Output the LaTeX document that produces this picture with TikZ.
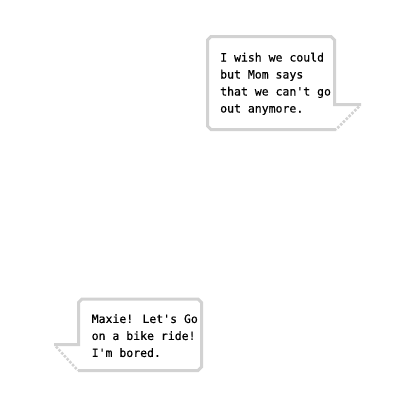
\documentclass[tikz,border=0pt]{standalone}
\usepackage{fontspec}
\newfontfamily\pixfont[FakeBold=0.5]{DejaVu Sans Mono}
\usepackage{tikz}

\definecolor{rim}{HTML}{D2D2D2}
\definecolor{ink}{HTML}{000000}

\begin{document}
\begin{tikzpicture}[x=1pt, y=-1pt,
    bubble/.style={draw=rim, line width=3pt, line join=miter},
    tailstep/.style={draw=rim, line width=2.5pt, dash pattern=on 2.5pt off 1.5pt},
    talk/.style={inner sep=0pt, align=left, text=ink, anchor=north west,
      font=\pixfont\fontsize{11.5}{17}\selectfont}]
\useasboundingbox (0,0) rectangle (400,400);
% upper bubble, tail to the right
    \coordinate (Ta) at (361,104.5);
    \coordinate (Tb) at (336,129.5);
    \draw[bubble] (Ta) -- (334.5,104.5) -- (334.5,40) -- (331,36.5) -- (211,36.5)
      -- (207.5,40) -- (207.5,126) -- (211,129.5) -- (Tb);
    \draw[tailstep] (359,106.5) -- (Tb);
    \node[talk] (wish) at (220,52.5) {I wish we could\\but Mom says\\that we can't go\\out anymore.};
% lower bubble, tail to the left
    \coordinate (Ua) at (54,344.5);
    \coordinate (Ub) at (78,370.5);
    \draw[bubble] (Ua) -- (78.5,344.5) -- (78.5,302.5) -- (82,299) -- (198,299)
      -- (201.5,302.5) -- (201.5,367) -- (198,370.5) -- (Ub);
    \draw[tailstep] (56,346.5) -- (Ub);
    \node[talk] (maxie) at (91.5,314) {Maxie! Let's Go\\on a bike ride!\\I'm bored.};
\end{tikzpicture}
\end{document}
